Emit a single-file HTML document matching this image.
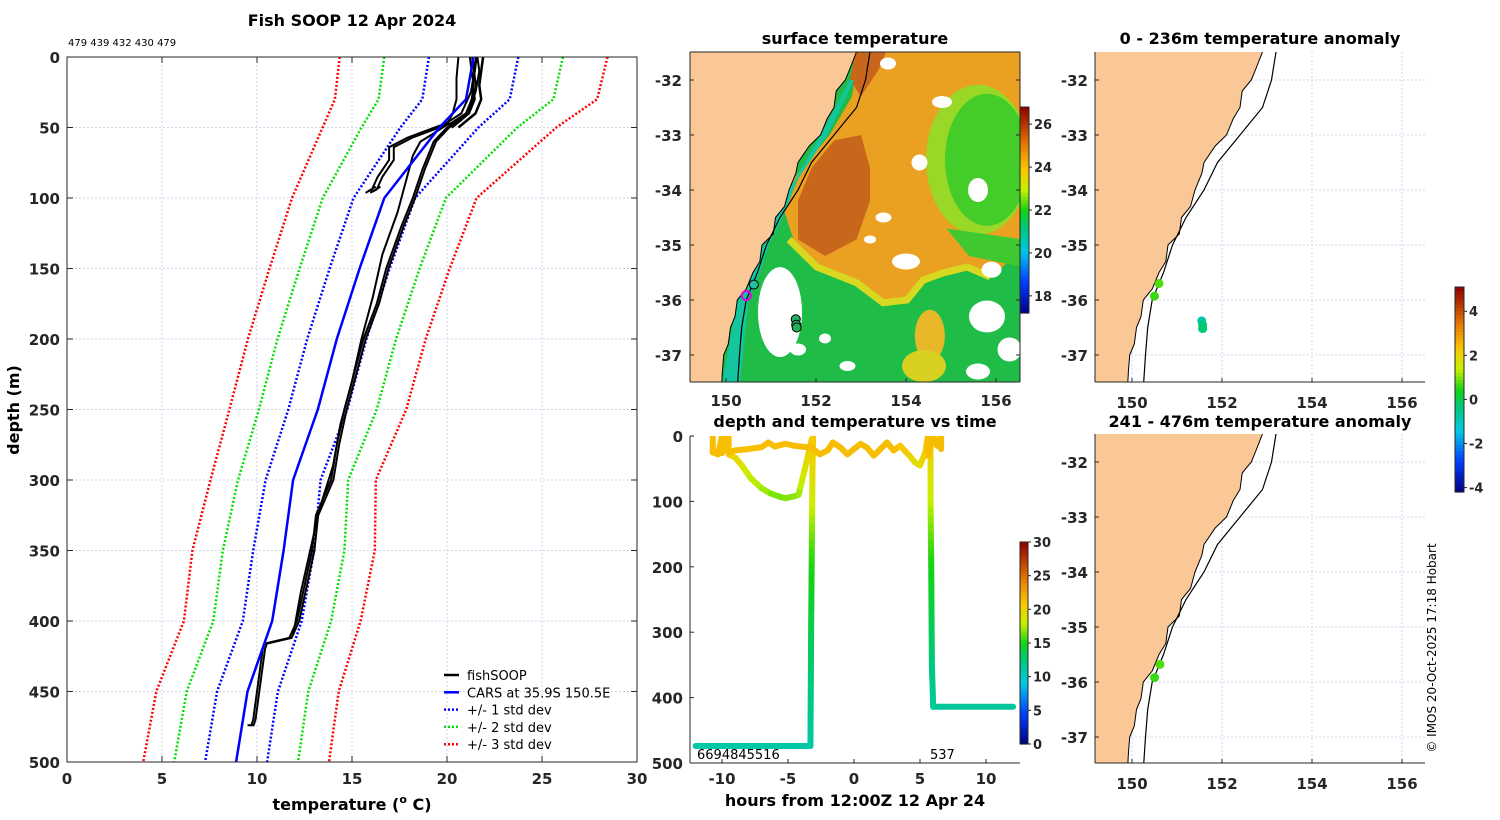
<!DOCTYPE html>
<html><head><meta charset="utf-8"><style>
html,body{margin:0;padding:0;background:#fff}
svg{display:block;font-family:"DejaVu Sans","Liberation Sans",sans-serif}
.tk{font-size:15px;font-weight:bold;fill:#262626}
.cb{font-size:13px;font-weight:bold;fill:#262626}
.tt{font-size:16px;font-weight:bold;fill:#000}
</style></head><body>
<svg id="fig" width="1500" height="820" viewBox="0 0 1500 820" xmlns="http://www.w3.org/2000/svg">
<defs>
<clipPath id="cpL"><rect x="67" y="57" width="570" height="705"/></clipPath>
<clipPath id="cpM"><rect x="690" y="52" width="330" height="330"/></clipPath>
<clipPath id="cpT"><rect x="690" y="436" width="330" height="327"/></clipPath>
<clipPath id="cpR1"><rect x="1095" y="52" width="330" height="330"/></clipPath>
<clipPath id="cpR2"><rect x="1095" y="434" width="330" height="329"/></clipPath>
</defs>
<g id="root"></g>
</svg>
<script>
// ---------- data ----------
const carsDepth=[0,30,50,100,150,200,250,300,350,400,450,500];
const carsMean=[21.4,21.0,19.6,16.7,15.4,14.2,13.2,11.9,11.4,10.8,9.5,8.9];
const carsStd=[2.35,2.3,2.05,1.62,1.58,1.56,1.55,1.45,1.6,1.55,1.6,1.63];
const fishDepth=[0,10,20,30,40,45,50,60,80,100,120,150,175,200,225,250,275,300,325,350,375,400,412,416,420,440,460,470,474,474];
const fishTemp=[21.2,21.3,21.4,21.3,21.0,20.6,20.0,19.3,18.7,18.2,17.6,16.8,16.3,15.6,15.1,14.6,14.2,13.9,13.1,12.9,12.5,12.1,11.7,10.4,10.3,10.1,9.9,9.8,9.7,9.5];
const fish2Depth=[0,15,30,40,48,55,60,70,90,110,140,170,200,230,260,290,320,350,380,410];
const fish2Temp=[20.6,20.5,20.5,20.3,20.0,19.2,18.6,18.2,17.8,17.4,16.6,16.1,15.5,15.0,14.4,14.0,13.3,12.8,12.3,11.9];
const fish3Depth=[0,10,25,40,47,52,57,64,73,85,94,96,92];
const fish3Temp=[21.6,21.7,21.5,21.0,20.2,19.2,18.2,17.2,17.2,16.6,16.3,16.0,16.5];
const fish4Depth=[0,10,20,30,40,50];
const fish4Temp=[21.9,21.8,21.7,21.8,21.5,20.6];
const tickT=[0,5,10,15,20,25,30];
const tickD=[0,50,100,150,200,250,300,350,400,450,500];
// time series
const tsHour1=[-12.0,-3.3,-3.25,-3.2,-3.15,-3.1];
const tsDepth1=[474,474,300,180,60,2];
const tsTemp1=[11,11.2,13.5,15.5,19.5,21];
const tsHour2=[-10.7,-10.7,-10.3,-10.0,-10.0,-9.5,-9.5,-9.0,-8.5,-7.8,-7.0,-6.3,-5.6,-5.2,-4.5,-4.2,-3.6,-3.2];
const tsDepth2=[0,25,28,0,26,0,28,33,45,65,80,88,93,95,92,90,40,5];
const tsTemp2=[21.5,21.5,21.5,21.5,21.5,21.5,21.3,20.5,19,18,17.5,17,16.5,16.8,17,17,19.5,21];
const tsHour3=[-9.5,-9.0,-8,-7,-6.5,-6,-5.2,-4.5,-3.2,-2.6,-2,-1.6,-1,-0.5,0,0.5,1,1.5,2,2.5,3,3.5,4.2,4.6,5.0,5.4,5.6,5.6,6.0,6.3,6.6,6.6];
const tsDepth3=[25,22,20,17,10,16,12,15,18,28,22,10,18,28,20,12,18,30,20,10,22,15,30,40,45,25,0,30,0,15,0,20];
const tsTemp3=[21.4,21.4,21.4,21.5,21.5,21.5,21.5,21.5,21.5,21.5,21.6,21.5,21.5,21.5,21.5,21.6,21.6,21.4,21.5,21.6,21.4,21.5,20.5,19.5,19.5,20.5,21.5,21.5,21.5,21.5,21.5,21.5];
const tsHour4=[5.8,5.8,5.85,5.9,6.0,12.05];
const tsDepth4=[0,100,200,350,414,414];
const tsTemp4=[21,18,15,12.5,11.5,11.5];
const tickH=[-10,-5,0,5,10];
const tickTD=[0,100,200,300,400,500];
// maps
const coastLat=[-31.2,-31.49,-31.8,-32,-32.2,-32.5,-32.7,-33,-33.2,-33.5,-33.7,-34,-34.3,-34.5,-34.8,-35,-35.3,-35.5,-35.8,-36,-36.3,-36.5,-36.8,-37,-37.3,-37.6];
const coastLon=[153.0,152.9,152.75,152.65,152.45,152.4,152.25,152.1,151.85,151.6,151.55,151.4,151.3,151.1,151.05,150.8,150.75,150.6,150.45,150.25,150.2,150.1,150.05,149.95,149.92,149.9];
const isoLat=[-31.2,-31.49,-32,-32.5,-33,-33.5,-34,-34.5,-35,-35.5,-36,-36.5,-37,-37.6];
const isoLon=[153.25,153.2,153.1,152.9,152.4,151.9,151.6,151.2,150.9,150.7,150.45,150.35,150.3,150.25];
const tickLat=[-32,-33,-34,-35,-36,-37];
const tickLon=[150,152,154,156];
const sstTicks=[18,20,22,24,26];
const anomTicks=[-4,-2,0,2,4];
const tTicks=[0,5,10,15,20,25,30];
const anomLat1=[-35.7,-35.93,-36.38,-36.45,-36.52];
const anomLon1=[150.6,150.5,151.55,151.57,151.57];
const anomVal1=[0.7,0.6,-0.9,-0.3,-0.3];
const anomLat2=[-35.68,-35.92];
const anomLon2=[150.62,150.5];
const anomVal2=[0.7,0.6];

// ---------- helpers ----------
const NS="http://www.w3.org/2000/svg";
const root=document.getElementById('root');
function mk(tag,attrs,parent){const e=document.createElementNS(NS,tag);for(const k in attrs)e.setAttribute(k,attrs[k]);(parent||root).appendChild(e);return e;}
function txt(s,x,y,cls,anchor,parent){const t=mk('text',{x:x,y:y,class:cls,'text-anchor':anchor||'middle'},parent);t.textContent=s;return t;}
const stops=[[0,[0,0,128]],[0.15,[0,60,255]],[0.3,[0,200,230]],[0.42,[0,200,120]],[0.5,[20,210,20]],[0.6,[200,240,0]],[0.7,[250,200,0]],[0.82,[230,120,0]],[1,[140,0,0]]];
function cmap(f){f=Math.max(0,Math.min(1,f));for(let i=1;i<stops.length;i++){if(f<=stops[i][0]){const a=stops[i-1],b=stops[i];const u=(f-a[0])/(b[0]-a[0]);const c=a[1].map((v,j)=>Math.round(v+(b[1][j]-v)*u));return `rgb(${c[0]},${c[1]},${c[2]})`;}}return 'rgb(140,0,0)';}
function colorbar(x,y,w,h,vmin,vmax,ticks,name,tx){
  const g=mk('g',{});
  const n=60;for(let i=0;i<n;i++){mk('rect',{x:x,y:y+h-(i+1)*h/n,width:w,height:h/n+0.6,fill:cmap((i+0.5)/n)},g);}
  mk('rect',{x:x,y:y,width:w,height:h,fill:'none',stroke:'#262626','stroke-width':1},g);
  ticks.forEach(v=>{const yy=y+h-(v-vmin)/(vmax-vmin)*h;mk('line',{x1:x+w,x2:x+w+3,y1:yy,y2:yy,stroke:'#262626'},g);txt(String(v),tx,yy+5,'cb','start',g);});
}

// ================= LEFT PROFILE PLOT =================
const X=t=>67+t*19, Y=d=>57+d*1.41;
const gL=mk('g',{});
tickT.forEach(t=>{if(t>0&&t<30)mk('line',{x1:X(t),x2:X(t),y1:57,y2:762,stroke:'#c8c8e6','stroke-width':0.8,'stroke-dasharray':'2,2'},gL);});
tickD.forEach(d=>{if(d>0&&d<500)mk('line',{x1:67,x2:637,y1:Y(d),y2:Y(d),stroke:'#c8c8e6','stroke-width':0.8,'stroke-dasharray':'2,2'},gL);});
const gLc=mk('g',{'clip-path':'url(#cpL)'},gL);
function poly(ds,ts,stroke,sw,dash,name,parent){const p=mk('polyline',{points:ds.map((d,i)=>X(ts[i]).toFixed(1)+','+Y(d).toFixed(1)).join(' '),fill:'none',stroke:stroke,'stroke-width':sw,'stroke-linejoin':'round'},parent||gLc);if(dash)p.setAttribute('stroke-dasharray',dash);return p;}
[[3,'#ff0000','std3'],[2,'#00e000','std2'],[1,'#0000ff','std1']].forEach(([k,c,n])=>{
  poly(carsDepth,carsMean.map((m,i)=>m-k*carsStd[i]),c,2.5,'2,2',n+'-lower-line');
  poly(carsDepth,carsMean.map((m,i)=>m+k*carsStd[i]),c,2.5,'2,2',n+'-upper-line');
});
poly(fishDepth,fishTemp.map(t=>t+0.12),'#000',2,null,'fishsoop-profile-b');
poly(fishDepth,fishTemp,'#000',2,null,'fishsoop-profile');
poly(fish2Depth,fish2Temp,'#000',2,null,'fishsoop-profile-c');
poly(fish3Depth,fish3Temp,'#000',2,null,'fishsoop-profile-d');
poly(fish3Depth,fish3Temp.map(t=>t-0.25),'#000',2,null,'fishsoop-profile-e');
poly(fish4Depth,fish4Temp,'#000',2.5,null,'fishsoop-profile-f');
poly(fish4Depth,fish4Temp.map(t=>t-0.35),'#000',2.5,null,'fishsoop-profile-g');
poly(carsDepth,carsMean,'#0000ff',2.5,null,'cars-mean-line');
mk('rect',{x:67,y:57,width:570,height:705,fill:'none',stroke:'#262626','stroke-width':1},gL);
tickT.forEach(t=>{mk('line',{x1:X(t),x2:X(t),y1:762,y2:756,stroke:'#262626'},gL);mk('line',{x1:X(t),x2:X(t),y1:57,y2:63,stroke:'#262626'},gL);txt(String(t),X(t),784,'tk','middle',gL);});
tickD.forEach(d=>{mk('line',{x1:67,x2:73,y1:Y(d),y2:Y(d),stroke:'#262626'},gL);mk('line',{x1:637,x2:631,y1:Y(d),y2:Y(d),stroke:'#262626'},gL);txt(String(d),60,Y(d)+6,'tk','end',gL);});
// legend
const leg=mk('g',{});
[['fishSOOP','#000',null],['CARS at 35.9S 150.5E','#0000ff',null],['+/- 1 std dev','#0000ff','2,2'],['+/- 2 std dev','#00e000','2,2'],['+/- 3 std dev','#ff0000','2,2']].forEach((e,i)=>{
  const y=675+i*17.3;const l=mk('line',{x1:444,x2:459,y1:y,y2:y,stroke:e[1],'stroke-width':2.5},leg);if(e[2])l.setAttribute('stroke-dasharray',e[2]);
  const t=txt(e[0],467,y+5,'','start',leg);t.setAttribute('font-size','13');
});
txt('Fish SOOP 12 Apr 2024',352,26,'tt','middle');
const cnt=txt('479 439 432 430 479',68,46,'','start');cnt.setAttribute('font-size','10');
const xl=mk('text',{x:352,y:810,class:'tt','text-anchor':'middle'});
xl.innerHTML='temperature (<tspan font-size="11" dy="-7">o</tspan><tspan dy="7"> C)</tspan>';
const yl=txt('depth (m)',0,0,'tt','middle');yl.setAttribute('transform','translate(19,410) rotate(-90)');

// ================= MAPS =================
function mapFns(x0,y0){return [lon=>x0+(lon-150)*45, lat=>y0+(-32-lat)*55];}
function coastPath(lx,ly){let s='M'+lx(148)+','+ly(-31.2);coastLat.forEach((la,i)=>{s+=' L'+lx(coastLon[i]).toFixed(1)+','+ly(la).toFixed(1);});s+=' L'+lx(148)+','+ly(-37.6)+' Z';return s;}
function lineP(lats,lons,lx,ly){return lats.map((la,i)=>lx(lons[i]).toFixed(1)+','+ly(la).toFixed(1)).join(' ');}
function mapGrid(g,x0,y0,w,h,lx,ly){
  tickLon.forEach(lo=>mk('line',{x1:lx(lo),x2:lx(lo),y1:y0,y2:y0+h,stroke:'#c8c8e6','stroke-width':0.8,'stroke-dasharray':'2,2'},g));
  tickLat.forEach(la=>{const yy=ly(la);if(yy>y0&&yy<y0+h)mk('line',{x1:x0,x2:x0+w,y1:yy,y2:yy,stroke:'#c8c8e6','stroke-width':0.8,'stroke-dasharray':'2,2'},g);});
}
function mapFrame(g,x0,y0,w,h,lx,ly,lblX,lonY){
  mk('line',{x1:x0,x2:x0+w,y1:y0+h,y2:y0+h,stroke:'#262626'},g);
  mk('line',{x1:x0,x2:x0,y1:y0,y2:y0+h,stroke:'#262626'},g);
  tickLon.forEach(lo=>{mk('line',{x1:lx(lo),x2:lx(lo),y1:y0+h,y2:y0+h-4,stroke:'#262626'},g);txt(String(lo),lx(lo),lonY,'tk','middle',g);});
  tickLat.forEach(la=>{const yy=ly(la);if(yy>y0&&yy<y0+h){mk('line',{x1:x0,x2:x0+4,y1:yy,y2:yy,stroke:'#262626'},g);txt(String(la),lblX,yy+6,'tk','end',g);}});
}
// --- SST map ---
(function(){
  const [lx,ly]=mapFns(726,80);
  const g=mk('g',{});
  const c=mk('g',{'clip-path':'url(#cpM)'},g);
  mk('rect',{x:690,y:52,width:330,height:330,fill:'#20bc48'},c);
  const P=(pts)=>pts.map(p=>lx(p[1]).toFixed(1)+','+ly(p[0]).toFixed(1)).join(' ');
  // warm region
  mk('polygon',{points:P([[-31.4,153.0],[-31.4,156.6],[-35.09,156.6],[-35.58,155.87],[-35.40,155.36],[-35.51,154.82],[-35.64,154.38],[-36.0,154.02],[-36.05,153.49],[-35.69,152.91],[-35.40,152.02],[-34.9,151.5],[-34.4,151.3],[-33.8,151.5],[-33.0,152.3],[-32.3,152.8],[-31.8,152.9]]),fill:'#eaa020'},c);
  // yellow edge along boundary
  mk('polyline',{points:P([[-34.9,151.4],[-35.40,152.02],[-35.69,152.91],[-36.05,153.49],[-36.0,154.02],[-35.64,154.38],[-35.51,154.82],[-35.40,155.36],[-35.58,155.87]]),fill:'none',stroke:'#d8d820','stroke-width':7},c);
  // dark warm core
  mk('polygon',{points:P([[-33.0,153.0],[-33.1,152.4],[-33.6,151.9],[-34.2,151.6],[-34.9,151.6],[-35.2,152.2],[-34.9,152.9],[-34.2,153.2],[-33.6,153.2]]),fill:'#c8661c'},c);
  mk('polygon',{points:P([[-31.4,152.9],[-31.4,153.6],[-31.8,153.4],[-32.3,153.0],[-32.0,152.75]]),fill:'#c8661c'},c);
  // NE green eddy
  mk('ellipse',{cx:lx(155.6),cy:ly(-33.45),rx:52,ry:75,fill:'#9ad828'},c);
  mk('ellipse',{cx:lx(155.8),cy:ly(-33.45),rx:42,ry:66,fill:'#44cc28'},c);
  mk('polygon',{points:P([[-34.7,154.9],[-34.9,156.6],[-35.4,156.6],[-35.2,155.4]]),fill:'#40c830'},c);
  // yellow-orange blob south
  mk('ellipse',{cx:lx(154.53),cy:ly(-36.65),rx:15,ry:26,fill:'#e8b828'},c);
  mk('ellipse',{cx:lx(154.4),cy:ly(-37.2),rx:22,ry:16,fill:'#d8d020'},c);
  // coastal strip
  mk('polygon',{points:P([[-32.0,152.75],[-32.0,152.85],[-33.0,152.25],[-33.8,151.6],[-34.5,151.25],[-35,150.95],[-35.5,150.75],[-36,150.5],[-37.6,150.3],[-37.6,149.9],[-36,150.25],[-35,150.8],[-34,151.4],[-33,152.1]]),fill:'#14c6a0'},c);
  // white cloud patches
  [[-36.22,151.2,22,45],[-35.75,151.25,8,10],[-36.9,151.6,8,6],[-35.3,154.0,14,8],[-35.45,155.9,10,8],[-36.3,155.8,18,16],[-36.9,156.3,12,12],[-37.3,155.6,12,8],[-34.0,155.6,10,12],[-33.5,154.3,8,8],[-34.5,153.5,8,5],[-32.4,154.8,10,6],[-31.7,153.6,8,6],[-34.9,153.2,6,4],[-36.7,152.2,6,5],[-37.2,152.7,8,5]].forEach(w=>mk('ellipse',{cx:lx(w[1]),cy:ly(w[0]),rx:w[2],ry:w[3],fill:'#fff'},c));
  mk('path',{d:coastPath(lx,ly),fill:'#f9c896',stroke:'#000','stroke-width':1},c);
  mk('polyline',{points:lineP(isoLat,isoLon,lx,ly),fill:'none',stroke:'#000','stroke-width':1.2},c);
  [[-35.72,150.62,'#20c0a0'],[-36.35,151.55,'#20b060'],[-36.45,151.56,'#20b060'],[-36.5,151.57,'#20b060']].forEach(d=>{const e=mk('circle',{cx:lx(d[1]),cy:ly(d[0]),r:4.5,fill:d[2],stroke:'#000','stroke-width':1},c);});
  mk('circle',{cx:lx(150.45),cy:ly(-35.92),r:4.5,fill:'none',stroke:'#e000e0','stroke-width':2},c);
  mapFrame(g,690,52,330,330,lx,ly,682,406);
  mk('line',{x1:690,x2:1020,y1:52,y2:52,stroke:'#262626'},g);mk('line',{x1:1020,x2:1020,y1:52,y2:382,stroke:'#262626'},g);
  tickLat.forEach(la=>mk('line',{x1:1020,x2:1016,y1:ly(la),y2:ly(la),stroke:'#262626'},g));
  txt('surface temperature',855,44,'tt','middle',g);
})();
colorbar(1020,107,9,206,17.2,26.8,sstTicks,'sst-colorbar',1034);

// --- anomaly maps ---
function anomMap(y0,h,latY0,title,titleY,lats,lons,vals,clip,name){
  const [lx,ly]=mapFns(1132,latY0);
  const g=mk('g',{});
  const c=mk('g',{'clip-path':'url(#'+clip+')'},g);
  mapGrid(c,1095,y0,330,h,lx,ly);
  mk('path',{d:coastPath(lx,ly),fill:'#f9c896',stroke:'#000','stroke-width':1},c);
  mk('polyline',{points:lineP(isoLat,isoLon,lx,ly),fill:'none',stroke:'#000','stroke-width':1.2},c);
  lats.forEach((la,i)=>{const e=mk('circle',{cx:lx(lons[i]),cy:ly(la),r:4.5,fill:cmap((vals[i]+4.2)/9.2)},c);});
  mapFrame(g,1095,y0,330,h,lx,ly,1088,y0+h+26);
  txt(title,1260,titleY,'tt','middle',g);
}
anomMap(52,330,80,'0 - 236m temperature anomaly',44,anomLat1,anomLon1,anomVal1,'cpR1','anomaly-map-shallow');
anomMap(434,329,462,'241 - 476m temperature anomaly',427,anomLat2,anomLon2,anomVal2,'cpR2','anomaly-map-deep');
colorbar(1455,287,9,205,-4.2,5.1,anomTicks,'anomaly-colorbar',1469);

// ================= TIME SERIES =================
(function(){
  const HX=h=>854+h*13.2, DY=d=>436+d*0.654;
  const g=mk('g',{});
  const c=mk('g',{'clip-path':'url(#cpT)'},g);
  function trace(hs,ds,ts,name){const tg=mk('g',{},c);
    for(let i=1;i<hs.length;i++){const n=Math.max(1,Math.round(Math.abs(DY(ds[i])-DY(ds[i-1]))/8));
      for(let k=0;k<n;k++){const a=k/n,b=(k+1)/n;const h1=hs[i-1]+(hs[i]-hs[i-1])*a,h2=hs[i-1]+(hs[i]-hs[i-1])*b,d1=ds[i-1]+(ds[i]-ds[i-1])*a,d2=ds[i-1]+(ds[i]-ds[i-1])*b,t=ts[i-1]+(ts[i]-ts[i-1])*(a+b)/2;
        mk('line',{x1:HX(h1),y1:DY(d1),x2:HX(h2),y2:DY(d2),stroke:cmap(t/30),'stroke-width':6,'stroke-linecap':'round'},tg);}}}
  trace(tsHour1,tsDepth1,tsTemp1,'trace-descent-1');
  trace(tsHour4,tsDepth4,tsTemp4,'trace-descent-2');
  trace(tsHour2,tsDepth2,tsTemp2,'trace-surface-loop');
  trace(tsHour3,tsDepth3,tsTemp3,'trace-surface');
  mk('line',{x1:690,x2:690,y1:436,y2:763,stroke:'#262626'},g);
  mk('line',{x1:690,x2:1020,y1:763,y2:763,stroke:'#262626'},g);
  tickH.forEach(h=>{mk('line',{x1:HX(h),x2:HX(h),y1:763,y2:759,stroke:'#262626'},g);txt(String(h),HX(h),784,'tk','middle',g);});
  tickTD.forEach(d=>{mk('line',{x1:690,x2:694,y1:DY(d),y2:DY(d),stroke:'#262626'},g);txt(String(d),683,DY(d)+6,'tk','end',g);});
  const a=txt('6694845516',697,759,'','start',g);a.setAttribute('font-size','13');
  const b=txt('537',930,759,'','start',g);b.setAttribute('font-size','13');
  txt('depth and temperature vs time',855,427,'tt','middle',g);
  txt('hours from 12:00Z 12 Apr 24',855,806,'tt','middle',g);
})();
colorbar(1020,542,8,202,0,30,tTicks,'temperature-colorbar',1033);

const cp=txt('© IMOS 20-Oct-2025 17:18 Hobart',0,0,'','middle');cp.setAttribute('font-size','12');cp.setAttribute('transform','translate(1436,648) rotate(-90)');
</script>
</body></html>
